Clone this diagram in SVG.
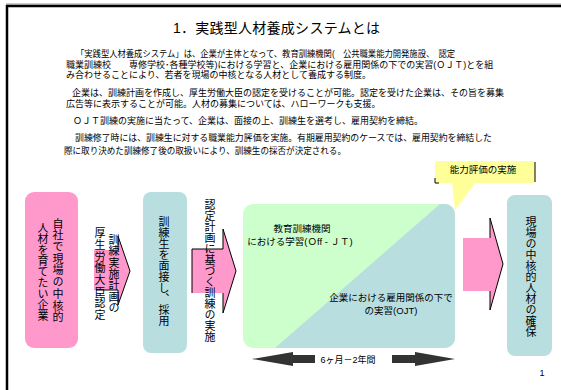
<svg xmlns="http://www.w3.org/2000/svg" width="561" height="390" viewBox="0 0 561 390">
<style>
.t{font-family:"Liberation Sans","Noto Sans CJK JP",sans-serif;fill:#000}
.p{font-size:9px}
.v{font-size:11px;writing-mode:vertical-rl}
.c{font-size:9.5px;text-anchor:middle}
.pink{fill:#FF99CC}
.teal{fill:#B8DEE0}
.ol{fill:none;stroke:#000;stroke-width:1}
</style>
<defs>
<clipPath id="bigclip"><rect x="243" y="204" width="212" height="144" rx="10"/></clipPath>
</defs>
<rect width="561" height="390" fill="#fff"/>
<g id="frame">
<line x1="6" y1="4" x2="561" y2="4" stroke="#999" stroke-width="1"/>
<line x1="6" y1="6" x2="561" y2="6" stroke="#000" stroke-width="2.5"/>
<line x1="7" y1="5" x2="7" y2="390" stroke="#000" stroke-width="2.5"/>
</g>
<g id="title">
<text class="t" x="276.5" y="33" font-size="14" text-anchor="middle" textLength="207">1．実践型人材養成システムとは</text>
</g>
<g id="paragraphs">
<text class="t p" x="76" y="57" textLength="379" lengthAdjust="spacingAndGlyphs">「実践型人材養成システム」は、企業が主体となって、教育訓練機関(　公共職業能力開発施設、　認定</text>
<text class="t p" x="66" y="67.5">職業訓練校　　専修学校･各種学校等)における学習と、企業における雇用関係の下での実習(ＯＪＴ)とを組</text>
<text class="t p" x="66" y="77.5">み合わせることにより、若者を現場の中核となる人材として養成する制度。</text>
<text class="t p" x="72" y="96">企業は、訓練計画を作成し、厚生労働大臣の認定を受けることが可能。認定を受けた企業は、その旨を募集</text>
<text class="t p" x="66" y="107">広告等に表示することが可能。人材の募集については、ハローワークも支援。</text>
<text class="t p" x="73" y="124">ＯＪＴ訓練の実施に当たって、企業は、面接の上、訓練生を選考し、雇用契約を締結。</text>
<text class="t p" x="75" y="141" textLength="417" lengthAdjust="spacingAndGlyphs">訓練修了時には、訓練生に対する職業能力評価を実施。有期雇用契約のケースでは、雇用契約を締結した</text>
<text class="t p" x="64" y="154" textLength="282" lengthAdjust="spacingAndGlyphs">際に取り決めた訓練修了後の取扱いにより、訓練生の採否が決定される。</text>
</g>
<g id="connectors">
<g id="arrow1">
<polygon class="pink" points="94,250 118,250 118,236 130,271 118,305 118,290 94,290"/>
<polyline class="ol" points="118,250 118,236 130,271 118,305 118,290 96,290"/>
</g>
<g id="arrow2">
<polygon class="pink" points="192,249 223,249 223,229 236,271 223,313 223,293 192,293"/>
<polyline class="ol" points="192,293 192,249 223,249 223,229 236,271 223,313 223,293"/>
</g>
<g id="arrow3">
<polygon class="pink" points="463,238 490,238 490,218 503,264 490,310 490,291 463,291"/>
<polyline class="ol" points="490,238 490,218 503,264 490,310 490,291"/>
</g>
<g id="duration">
<polygon fill="#333" points="252,359 293,352 293,355 315,355 315,363 293,363 293,366"/>
<polygon fill="#333" points="455,359 415,352 415,355 392,355 392,363 415,363 415,366"/>
<text class="t" x="348" y="362.5" font-size="9" text-anchor="middle">6ヶ月－2年間</text>
</g>
</g>
<g id="node-company">
<rect class="pink" x="25" y="192" width="53" height="156" rx="9"/>
<text class="t v" x="57" y="218" letter-spacing="0.7">自社で現場の中核的</text>
<text class="t v" x="42" y="222">人材を育てたい企業</text>
</g>
<g id="label-arrow1">
<text class="t v" x="113" y="234.5" letter-spacing="0.3">訓練実施計画の</text>
<text class="t v" x="99" y="227.5" letter-spacing="0.7">厚生労働大臣認定</text>
</g>
<g id="node-interview">
<rect class="teal" x="143" y="192" width="44" height="161" rx="8"/>
<text class="t v" x="163" y="216.5">訓練生を面接し、採用</text>
</g>
<g id="label-arrow2">
<text class="t v" x="209" y="199.5">認定計画に基づく訓練の実施</text>
</g>
<g id="node-training">
<rect x="243" y="204" width="212" height="144" rx="10" fill="#CCFFCC"/>
<polygon class="teal" clip-path="url(#bigclip)" points="275,348 440,204 460,204 460,350 270,350"/>
<text class="t c" x="302" y="231.5">教育訓練機関</text>
<text class="t c" x="300" y="244.5">における学習(Ｏff - ＪＴ)</text>
<text class="t c" x="391" y="300.5">企業における雇用関係の下で</text>
<text class="t c" x="391" y="314">の実習(OJT)</text>
</g>
<g id="callout">
<polygon fill="#FFFF99" points="452,182 476,182 455,210"/>
<rect x="435" y="161" width="100" height="22" rx="3" fill="#FFFF99"/>
<line x1="535" y1="162" x2="535" y2="182" stroke="#000" stroke-width="1"/>
<polyline class="ol" points="435,178 435,183 439,183"/>
<text class="t c" x="483" y="172.5">能力評価の実施</text>
</g>
<g id="node-result">
<rect class="teal" x="507" y="195" width="45" height="161" rx="8"/>
<text class="t v" x="530" y="216.5">現場の中核的人材の確保</text>
</g>
<text class="t" x="542" y="376" font-size="9" text-anchor="middle">1</text>
</svg>
